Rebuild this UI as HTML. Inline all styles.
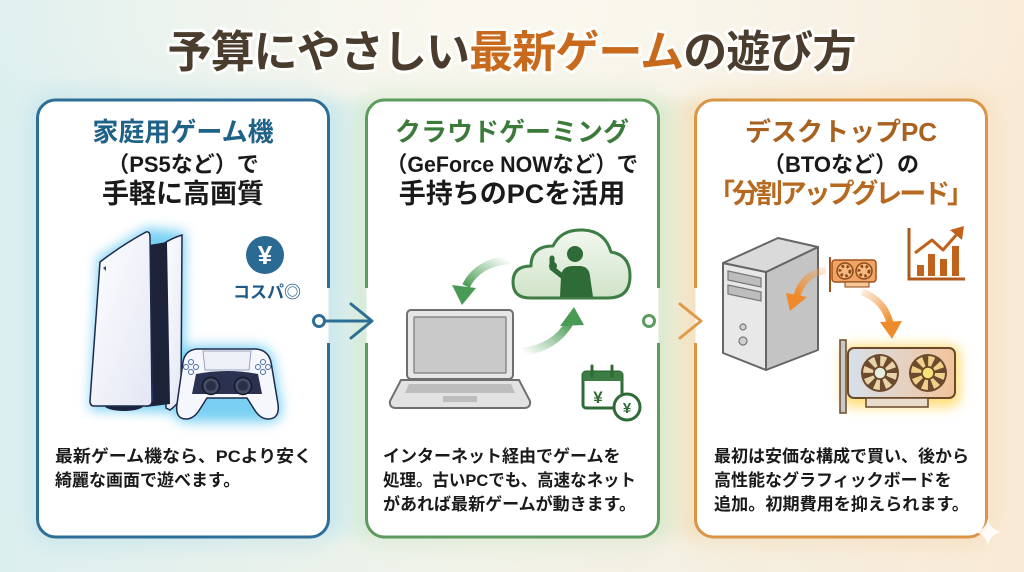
<!DOCTYPE html>
<html><head><meta charset="utf-8"><style>
html,body{margin:0;padding:0;width:1024px;height:572px;overflow:hidden;background:#eef2ea;}
svg{display:block;font-family:"Liberation Sans","Noto Sans CJK JP",sans-serif;font-weight:bold;}
</style></head><body>
<svg width="1024" height="572" viewBox="0 0 1024 572" xmlns="http://www.w3.org/2000/svg">
<defs>
<linearGradient id="bg" x1="0" y1="0" x2="1" y2="0">
<stop offset="0" stop-color="#dcefef"/>
<stop offset="0.45" stop-color="#f1f3e9"/>
<stop offset="1" stop-color="#f9ead6"/>
</linearGradient>
<radialGradient id="topglow" cx="0.5" cy="0.05" r="0.55">
<stop offset="0" stop-color="#fbf8ef" stop-opacity="0.95"/>
<stop offset="1" stop-color="#fbf8ef" stop-opacity="0"/>
</radialGradient>
<linearGradient id="band1" x1="0" y1="0" x2="1" y2="0">
<stop offset="0" stop-color="#d7eef2"/><stop offset="1" stop-color="#e3f0e2"/>
</linearGradient>
<linearGradient id="band2" x1="0" y1="0" x2="1" y2="0">
<stop offset="0" stop-color="#e4f0dc"/><stop offset="1" stop-color="#f8e6cc"/>
</linearGradient>
<linearGradient id="conn2" x1="0" y1="0" x2="1" y2="0">
<stop offset="0" stop-color="#5d9c5e"/><stop offset="1" stop-color="#e09a45"/>
</linearGradient>
<linearGradient id="cloudfill" x1="0" y1="0" x2="0" y2="1">
<stop offset="0" stop-color="#f3f8f0"/><stop offset="1" stop-color="#cfe3c8"/>
</linearGradient>
<linearGradient id="garr1" x1="1" y1="0" x2="0" y2="1">
<stop offset="0" stop-color="#5aa862" stop-opacity="0"/><stop offset="1" stop-color="#4a9a55"/>
</linearGradient>
<linearGradient id="garr2" x1="0" y1="1" x2="1" y2="0">
<stop offset="0" stop-color="#5aa862" stop-opacity="0"/><stop offset="1" stop-color="#4a9a55"/>
</linearGradient>
<linearGradient id="oarr1" x1="1" y1="0" x2="0" y2="1">
<stop offset="0" stop-color="#f3a050" stop-opacity="0.2"/><stop offset="1" stop-color="#ee8a2a"/>
</linearGradient>
<linearGradient id="oarr2" x1="0" y1="0" x2="1" y2="1">
<stop offset="0" stop-color="#f3a050" stop-opacity="0.2"/><stop offset="1" stop-color="#ee8a2a"/>
</linearGradient>
<linearGradient id="gpu" x1="0" y1="0" x2="1" y2="0">
<stop offset="0" stop-color="#d6e0ea"/><stop offset="1" stop-color="#f3c39a"/>
</linearGradient>
<linearGradient id="ps" x1="0" y1="0" x2="1" y2="1">
<stop offset="0" stop-color="#ffffff"/><stop offset="1" stop-color="#e3e6f4"/>
</linearGradient>
<filter id="b10" x="-30%" y="-30%" width="160%" height="160%"><feGaussianBlur stdDeviation="10"/></filter>
<filter id="b6" x="-30%" y="-30%" width="160%" height="160%"><feGaussianBlur stdDeviation="6"/></filter>
<filter id="b3" x="-30%" y="-30%" width="160%" height="160%"><feGaussianBlur stdDeviation="3"/></filter>
</defs>

<!-- background -->
<rect x="0" y="0" width="1024" height="572" fill="url(#bg)"/>
<rect x="0" y="0" width="1024" height="300" fill="url(#topglow)"/>

<!-- bands between panels -->
<rect x="322" y="100" width="50" height="437" fill="url(#band1)" filter="url(#b6)"/>
<rect x="652" y="100" width="50" height="437" fill="url(#band2)" filter="url(#b6)"/>

<!-- panel glows -->
<rect x="37.5" y="100" width="291" height="437" rx="18" fill="none" stroke="#8fcde6" stroke-width="10" opacity="0.45" filter="url(#b10)"/>
<rect x="366.5" y="100" width="292" height="437" rx="18" fill="none" stroke="#a9d6a4" stroke-width="10" opacity="0.45" filter="url(#b10)"/>
<rect x="695.5" y="100" width="291" height="437" rx="18" fill="none" stroke="#f2c486" stroke-width="10" opacity="0.45" filter="url(#b10)"/>

<!-- panel fills -->
<rect x="37.5" y="100" width="291" height="437" rx="18" fill="#ffffff"/>
<rect x="366.5" y="100" width="292" height="437" rx="18" fill="#ffffff"/>
<rect x="695.5" y="100" width="291" height="437" rx="18" fill="#ffffff"/>

<!-- panel borders -->
<g fill="none" stroke-width="3">
<path d="M328.5,343 V519 A18,18 0 0 1 310.5,537 H55.5 A18,18 0 0 1 37.5,519 V118 A18,18 0 0 1 55.5,100 H310.5 A18,18 0 0 1 328.5,118 V288" stroke="#2e6e96"/>
<path d="M366.5,288 V118 A18,18 0 0 1 384.5,100 H640.5 A18,18 0 0 1 658.5,118 V288" stroke="#5d9c5e"/>
<path d="M658.5,343 V519 A18,18 0 0 1 640.5,537 H384.5 A18,18 0 0 1 366.5,519 V343" stroke="#5d9c5e"/>
<path d="M695.5,288 V118 A18,18 0 0 1 713.5,100 H968.5 A18,18 0 0 1 986.5,118 V519 A18,18 0 0 1 968.5,537 H713.5 A18,18 0 0 1 695.5,519 V343" stroke="#d99445"/>
</g>

<!-- sparkle -->
<path d="M988,518 Q990,530 1002,532 Q990,534 988,546 Q986,534 974,532 Q986,530 988,518 Z" fill="#ffffff" opacity="0.85"/>

<!-- connectors -->
<g fill="none" stroke-width="3" stroke-linecap="round" stroke-linejoin="round">
<line x1="324.5" y1="321" x2="371" y2="321" stroke="#2e6e96"/>
<path d="M351,304 L372,321 L351,338" stroke="#2e6e96"/>
<circle cx="319" cy="321" r="5.5" stroke="#2e6e96" fill="#ffffff"/>
<line x1="654.5" y1="321" x2="700" y2="321" stroke="url(#conn2)"/>
<path d="M680,304 L701,321 L680,338" stroke="#e09a45"/>
<circle cx="649" cy="321" r="5.5" stroke="#5d9c5e" fill="#ffffff"/>
</g>

<!-- title -->
<text x="512" y="67" font-size="44" text-anchor="middle" textLength="689" lengthAdjust="spacing" stroke="#ffffff" stroke-width="6" stroke-opacity="0.85" paint-order="stroke" stroke-linejoin="round"><tspan fill="#4a3d2e">予算にやさしい</tspan><tspan fill="#c8691c">最新ゲーム</tspan><tspan fill="#4a3d2e">の遊び方</tspan></text>

<!-- headings -->
<g text-anchor="middle">
<text x="183" y="141" font-size="26" fill="#1f6288">家庭用ゲーム機</text>
<text x="183" y="172" font-size="22" fill="#1a1a1a">（PS5など）で</text>
<text x="183" y="203" font-size="27" fill="#1a1a1a">手軽に高画質</text>

<text x="512" y="141" font-size="26" fill="#3c7a3a">クラウドゲーミング</text>
<text x="512" y="172" font-size="22" fill="#1a1a1a" textLength="252" lengthAdjust="spacingAndGlyphs">（GeForce NOWなど）で</text>
<text x="512" y="203" font-size="27" fill="#1a1a1a">手持ちのPCを活用</text>

<text x="841" y="141" font-size="26" fill="#a8611f">デスクトップPC</text>
<text x="841" y="172" font-size="22" fill="#1a1a1a">（BTOなど）の</text>
<text x="841" y="203" font-size="27" fill="#b6691f" textLength="266" lengthAdjust="spacing">「分割アップグレード」</text>
</g>

<!-- body text -->
<g font-size="17" fill="#1a1a1a">
<text x="55" y="462" textLength="257" lengthAdjust="spacingAndGlyphs">最新ゲーム機なら、PCより安く</text>
<text x="55" y="486">綺麗な画面で遊べます。</text>
<text x="383" y="462">インターネット経由でゲームを</text>
<text x="383" y="486" textLength="253" lengthAdjust="spacingAndGlyphs">処理。古いPCでも、高速なネット</text>
<text x="383" y="510" textLength="253" lengthAdjust="spacingAndGlyphs">があれば最新ゲームが動きます。</text>
<text x="714" y="462" textLength="255" lengthAdjust="spacingAndGlyphs">最初は安価な構成で買い、後から</text>
<text x="714" y="486">高性能なグラフィックボードを</text>
<text x="714" y="510" textLength="255" lengthAdjust="spacingAndGlyphs">追加。初期費用を抑えられます。</text>
</g>

<!-- ===== Panel 1 illustration ===== -->
<g filter="url(#b6)" fill="#62c8f0" opacity="0.85">
<path d="M98,258 L147,228 L185,232 L184,402 L170,412 L90,410 Z"/>
<path d="M181,360 Q183,347 197,346 L256,346 Q270,347 273,360 L281,404 Q283,422 268,422 L186,422 Q172,422 174,404 Z"/>
</g>
<!-- right panel -->
<path d="M163,244 Q172,238 182,235 L181,398 Q176,406 170,410 L166,408 Z" fill="url(#ps)" stroke="#1d2a4a" stroke-width="1.5"/>
<!-- core -->
<path d="M143,246 L167,242 L170,404 L146,407 Z" fill="#1c2238"/>
<path d="M149,248 L152,402" stroke="#5a6ad8" stroke-width="2" opacity="0.8"/>
<!-- stand -->
<ellipse cx="124" cy="405" rx="20" ry="6" fill="#1b2240"/>
<!-- left panel -->
<path d="M100,262 Q122,245 146,232 Q150,231 150,237 L152,401 Q152,406 147,406 L94,406 Q90,406 90,401 Z" fill="url(#ps)" stroke="#1d2a4a" stroke-width="1.5"/>
<path d="M103,268 l3,-2 l0,5 z" fill="#3a4470"/>
<!-- controller -->
<path d="M183,362 Q185,350 197,349 L256,349 Q268,350 271,362 L278,404 Q280,419 268,419 Q260,419 254,409 L247,398 L207,398 L200,409 Q194,419 186,419 Q175,419 177,404 Z" fill="#f6f7fc" stroke="#1d2a4a" stroke-width="1.5"/>
<path d="M196,374 Q227,368 258,374 L262,394 L192,394 Z" fill="#2b3150"/>
<path d="M203,351 L251,351 L249,370 L205,370 Z" fill="#eef0f8" stroke="#9aa2c0" stroke-width="1"/>
<circle cx="211" cy="386" r="8.5" fill="#454c66" stroke="#14182a" stroke-width="1.5"/>
<circle cx="211" cy="386" r="5" fill="#2a2f45"/>
<circle cx="243" cy="386" r="8.5" fill="#454c66" stroke="#14182a" stroke-width="1.5"/>
<circle cx="243" cy="386" r="5" fill="#2a2f45"/>
<g fill="none" stroke="#4a6aa0" stroke-width="1">
<circle cx="191" cy="362" r="2.5"/><circle cx="191" cy="372" r="2.5"/><circle cx="186" cy="367" r="2.5"/><circle cx="196" cy="367" r="2.5"/>
<circle cx="263" cy="362" r="2.5"/><circle cx="263" cy="372" r="2.5"/><circle cx="258" cy="367" r="2.5"/><circle cx="268" cy="367" r="2.5"/>
</g>
<!-- yen badge -->
<circle cx="265" cy="255" r="19" fill="#2b6a93"/>
<text x="265" y="264" font-size="26" fill="#ffffff" text-anchor="middle">¥</text>
<text x="267" y="298" font-size="17" fill="#1e5a85" text-anchor="middle">コスパ◎</text>

<!-- ===== Panel 2 illustration ===== -->
<!-- laptop -->
<rect x="407" y="310" width="106" height="69" rx="4" fill="#e6e6e6" stroke="#6f6f6f" stroke-width="2"/>
<rect x="414" y="317" width="92" height="56" rx="1" fill="#c9c9c9" stroke="#8a8a8a" stroke-width="1.5"/>
<path d="M401,380 L519,380 L530,401 Q531,408 524,408 L396,408 Q389,408 390,401 Z" fill="#e2e2e2" stroke="#6f6f6f" stroke-width="2"/>
<path d="M409,384 L511,384 L515,393 L405,393 Z" fill="#bdbdbd"/>
<rect x="443" y="396" width="34" height="6" fill="#bdbdbd"/>
<!-- cloud -->
<path d="M530,298 Q513,298 513,282 Q513,266 531,266 Q531,246 553,246 Q561,229 583,230 Q605,231 611,252 Q630,255 630,276 Q630,298 608,298 Z" fill="url(#cloudfill)" stroke="#3e7d45" stroke-width="3" stroke-linejoin="round"/>
<circle cx="575" cy="254" r="8" fill="#2e6b36"/>
<path d="M560,297 L561,276 Q562,266 573,266 L579,266 Q589,266 590,276 L593,297 Z" fill="#2e6b36"/>
<path d="M562,276 L552,268 L552,258" stroke="#2e6b36" stroke-width="5" fill="none" stroke-linecap="round"/>
<circle cx="553" cy="266" r="4" fill="#2e6b36"/>
<!-- green arrows -->
<path d="M510,260 Q478,262 466,286" stroke="url(#garr1)" stroke-width="8" fill="none"/>
<polygon points="452,285 476,288 462,305" fill="#4a9a55"/>
<path d="M522,352 Q555,348 570,322" stroke="url(#garr2)" stroke-width="8" fill="none"/>
<polygon points="560,326 584,325 574,307" fill="#4a9a55"/>
<!-- calendar -->
<rect x="583" y="372" width="39" height="36" rx="3" fill="#ffffff" stroke="#2e6b36" stroke-width="3"/>
<rect x="583" y="372" width="39" height="9" fill="#3b7d43"/>
<line x1="592" y1="366" x2="592" y2="376" stroke="#2e6b36" stroke-width="3" stroke-linecap="round"/>
<line x1="612" y1="366" x2="612" y2="376" stroke="#2e6b36" stroke-width="3" stroke-linecap="round"/>
<text x="598" y="403" font-size="17" fill="#2e6b36" text-anchor="middle">¥</text>
<circle cx="627" cy="407" r="13" fill="#ffffff" stroke="#2e6b36" stroke-width="3"/>
<text x="627" y="413" font-size="15" fill="#2e6b36" text-anchor="middle">¥</text>

<!-- ===== Panel 3 illustration ===== -->
<!-- tower -->
<path d="M766,272 L818,247 L818,350 L766,370 Z" fill="#c4c4c4" stroke="#666" stroke-width="2" stroke-linejoin="round"/>
<path d="M723,263 L766,272 L766,370 L723,353 Z" fill="#e8e8e8" stroke="#666" stroke-width="2" stroke-linejoin="round"/>
<path d="M723,263 L778,238 L818,247 L766,272 Z" fill="#dadada" stroke="#666" stroke-width="2" stroke-linejoin="round"/>
<path d="M728,271 L761,278 L761,287 L728,280 Z" fill="#bdbdbd" stroke="#777" stroke-width="1.2"/>
<path d="M728,285 L761,292 L761,301 L728,294 Z" fill="#bdbdbd" stroke="#777" stroke-width="1.2"/>
<circle cx="743" cy="327" r="3" fill="#d0d0d0" stroke="#777" stroke-width="1.2"/>
<circle cx="743" cy="341" r="4" fill="#d0d0d0" stroke="#777" stroke-width="1.2"/>
<!-- small gpu -->
<line x1="830" y1="257" x2="830" y2="292" stroke="#a0521c" stroke-width="2"/>
<rect x="832" y="260" width="44" height="22" rx="3" fill="#f2a464" stroke="#a0521c" stroke-width="1.5"/>
<circle cx="845" cy="271" r="8" fill="#f7b980" stroke="#8a4a1a" stroke-width="1.5"/>
<circle cx="845" cy="271" r="5" fill="none" stroke="#8a4a1a" stroke-width="3" stroke-dasharray="2.5 2.5"/>
<circle cx="864" cy="271" r="8" fill="#f7b980" stroke="#8a4a1a" stroke-width="1.5"/>
<circle cx="864" cy="271" r="5" fill="none" stroke="#8a4a1a" stroke-width="3" stroke-dasharray="2.5 2.5"/>
<rect x="845" y="282" width="24" height="5" fill="#f7c79a" stroke="#8a4a1a" stroke-width="1"/>
<!-- chart -->
<path d="M909,228 V279 H965" fill="none" stroke="#b0581c" stroke-width="3"/>
<rect x="917" y="265" width="7" height="11" fill="#c0621c"/>
<rect x="928" y="254" width="7" height="22" fill="#c0621c"/>
<rect x="940" y="259" width="7" height="17" fill="#c0621c"/>
<rect x="952" y="246" width="7" height="30" fill="#c0621c"/>
<path d="M915,253 L932,240 L943,250 L958,233" fill="none" stroke="#c0621c" stroke-width="3" stroke-linejoin="round"/>
<polygon points="964,226 962,240 950,230" fill="#c0621c"/>
<!-- orange arrows -->
<path d="M826,270 Q803,274 797,296" stroke="url(#oarr1)" stroke-width="7" fill="none"/>
<polygon points="786,293 807,297 790,311" fill="#ee8a2a"/>
<path d="M862,292 Q884,300 890,323" stroke="url(#oarr2)" stroke-width="7" fill="none"/>
<polygon points="880,322 902,321 892,339" fill="#ee8a2a"/>
<!-- big gpu glow -->
<rect x="842" y="345" width="118" height="62" rx="10" fill="#ffd860" opacity="0.85" filter="url(#b6)"/>
<rect x="840" y="340" width="6" height="73" fill="#c9c9c9" stroke="#6a4a2a" stroke-width="1.5"/>
<rect x="848" y="348" width="107" height="50" rx="6" fill="url(#gpu)" stroke="#6a4a2a" stroke-width="2"/>
<rect x="866" y="398" width="62" height="9" fill="#eadccc" stroke="#6a4a2a" stroke-width="1.5"/>
<circle cx="880" cy="373" r="19" fill="#6b4a2e"/>
<circle cx="880" cy="373" r="12" fill="none" stroke="#e8d4a8" stroke-width="10" stroke-dasharray="5 4.4"/>
<circle cx="880" cy="373" r="6" fill="#e6eedc" stroke="#6b4a2e" stroke-width="1.5"/>
<circle cx="928" cy="373" r="19" fill="#6b4a2e"/>
<circle cx="928" cy="373" r="12" fill="none" stroke="#f2d08a" stroke-width="10" stroke-dasharray="5 4.4"/>
<circle cx="928" cy="373" r="6" fill="#fae27a" stroke="#6b4a2e" stroke-width="1.5"/>
</svg>
</body></html>
